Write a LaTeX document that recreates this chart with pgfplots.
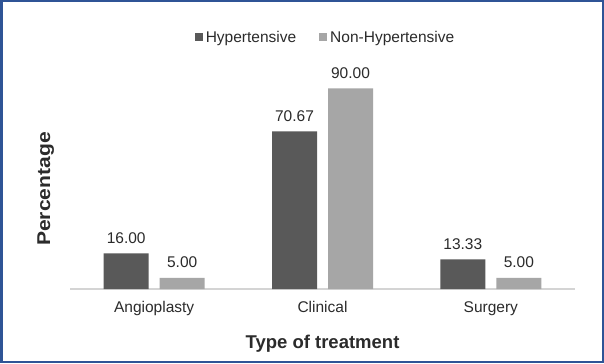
\documentclass[border=0pt]{standalone}
\usepackage{pgfplots}
\pgfplotsset{compat=1.18}
\usepackage{fontspec}
\setmainfont{Liberation Sans}
\definecolor{darkbar}{HTML}{595959}
\definecolor{lightbar}{HTML}{A6A6A6}
\definecolor{framecol}{HTML}{2F5496}
\definecolor{txt}{HTML}{2B2B2B}
\newcommand{\lblfont}{\fontsize{15.5bp}{18bp}\selectfont}
\begin{document}
\begin{tikzpicture}[x=1bp,y=1bp]
\useasboundingbox (0,0) rectangle (604,363);
\fill[white] (0,0) rectangle (604,363);
\begin{axis}[
  at={(70bp,74bp)}, anchor=south west,
  scale only axis, width=505bp, height=223bp,
  xmin=-0.5, xmax=2.5, ymin=0, ymax=100,
  ybar=11bp, bar width=45bp,
  axis y line=none, axis x line*=bottom,
  x axis line style={draw=black!17, line width=1.2bp, -},
  xtick=data, xticklabels={Angioplasty,Clinical,Surgery},
  major tick length=0pt,
  xticklabel style={font=\lblfont, text=txt, anchor=base, yshift=-23bp},
  nodes near coords={\pgfmathprintnumber[fixed,fixed zerofill,precision=2,assume math mode=true]{\pgfplotspointmeta}},
  nodes near coords style={font=\lblfont, text=txt, anchor=base, yshift=10bp},
  legend columns=2,
  legend style={draw=none, fill=none, at={(0.507,1.128)}, anchor=center,
    font=\lblfont, text=txt,
    /tikz/every even column/.append style={column sep=20bp},
    nodes={inner xsep=3bp}},
  legend image code/.code={\fill[#1] (0bp,-4bp) rectangle (8bp,4bp);},
  clip=false,
]
\addplot[fill=darkbar, draw=none] coordinates {(0,16.00) (1,70.67) (2,13.33)};
\addplot[fill=lightbar, draw=none] coordinates {(0,5.00) (1,90.00) (2,5.00)};
\legend{Hypertensive, Non-Hypertensive}
\end{axis}
\node[rotate=90, text=txt, font=\bfseries\fontsize{18.5bp}{22bp}\selectfont] at (45.8,174) {\scalebox{1.14}[1]{Percentage}};
\node[anchor=base, text=txt, font=\bfseries\fontsize{18.5bp}{22bp}\selectfont] at (322.5,15) {Type of treatment};
\draw[framecol, line width=2bp] (1.5,1.5) rectangle (602.5,361.5);
\end{tikzpicture}
\end{document}
